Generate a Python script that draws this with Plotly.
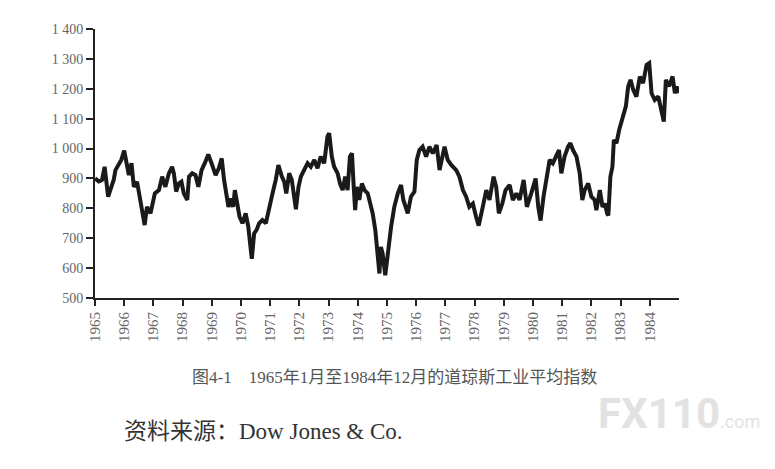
import plotly.graph_objects as go

# decimal years, with the index level at that point
years = [
    1965.00, 1965.13, 1965.24, 1965.33, 1965.45, 1965.53, 1965.64, 1965.70, 1965.81, 1965.90,
    1966.00, 1966.10, 1966.16, 1966.25, 1966.33, 1966.44, 1966.50, 1966.59, 1966.65, 1966.70,
    1966.78, 1966.90, 1966.98, 1967.05, 1967.19, 1967.30, 1967.41, 1967.53, 1967.64, 1967.70,
    1967.78, 1967.87, 1967.96, 1968.04, 1968.16, 1968.22, 1968.33, 1968.44, 1968.54, 1968.65,
    1968.76, 1968.88, 1968.99, 1969.07, 1969.13, 1969.24, 1969.34, 1969.42, 1969.50, 1969.57,
    1969.65, 1969.73, 1969.79, 1969.87, 1969.95, 1970.05, 1970.16, 1970.25, 1970.37, 1970.45,
    1970.53, 1970.62, 1970.73, 1970.85, 1970.96, 1971.08, 1971.19, 1971.28, 1971.40, 1971.48,
    1971.55, 1971.65, 1971.74, 1971.80, 1971.88, 1971.97, 1972.05, 1972.16, 1972.28, 1972.39,
    1972.51, 1972.62, 1972.73, 1972.85, 1972.96, 1973.02, 1973.11, 1973.19, 1973.31, 1973.39,
    1973.48, 1973.57, 1973.65, 1973.73, 1973.80, 1973.86, 1973.91, 1973.97, 1974.05, 1974.14,
    1974.23, 1974.34, 1974.42, 1974.51, 1974.60, 1974.66, 1974.74, 1974.79, 1974.85, 1974.94,
    1975.02, 1975.14, 1975.25, 1975.37, 1975.48, 1975.56, 1975.71, 1975.82, 1975.94, 1976.02,
    1976.11, 1976.22, 1976.34, 1976.45, 1976.57, 1976.70, 1976.80, 1976.97, 1977.08, 1977.20,
    1977.37, 1977.48, 1977.60, 1977.71, 1977.82, 1977.94, 1978.05, 1978.14, 1978.28, 1978.40,
    1978.51, 1978.65, 1978.74, 1978.83, 1978.95, 1979.06, 1979.20, 1979.31, 1979.43, 1979.54,
    1979.68, 1979.79, 1979.94, 1980.09, 1980.18, 1980.26, 1980.36, 1980.46, 1980.57, 1980.68,
    1980.80, 1980.89, 1980.97, 1981.08, 1981.20, 1981.28, 1981.37, 1981.49, 1981.60, 1981.69,
    1981.77, 1981.89, 1982.00, 1982.11, 1982.17, 1982.29, 1982.38, 1982.46, 1982.54, 1982.58,
    1982.65, 1982.72, 1982.77, 1982.86, 1982.95, 1983.06, 1983.18, 1983.26, 1983.34, 1983.43,
    1983.54, 1983.66, 1983.77, 1983.89, 1983.98, 1984.06, 1984.17, 1984.29, 1984.40, 1984.48,
    1984.55, 1984.66, 1984.78, 1984.86, 1984.92, 1984.97,
]
djia = [
    900, 890, 895, 939, 839, 861, 895, 928, 951, 962,
    993, 928, 911, 951, 872, 889, 850, 805, 772, 744,
    805, 783, 828, 850, 861, 906, 872, 917, 939, 917,
    856, 883, 889, 850, 828, 906, 917, 911, 872, 928,
    951, 980, 951, 928, 911, 934, 967, 895, 850, 805,
    833, 805, 861, 805, 772, 750, 783, 738, 631, 716,
    727, 750, 761, 750, 805, 850, 895, 945, 906, 889,
    850, 917, 895, 850, 797, 872, 906, 928, 951, 939,
    962, 934, 973, 951, 1040, 1051, 973, 939, 917, 883,
    861, 906, 861, 973, 984, 872, 794, 872, 828, 883,
    861, 850, 816, 783, 727, 660, 582, 671, 649, 576,
    649, 738, 805, 850, 878, 828, 783, 839, 856, 962,
    995, 1006, 973, 1006, 984, 1012, 928, 1006, 962, 945,
    928, 906, 861, 839, 805, 816, 772, 742, 805, 861,
    828, 906, 872, 783, 816, 861, 878, 828, 850, 828,
    895, 805, 850, 900, 805, 759, 839, 895, 962, 951,
    973, 995, 917, 973, 1006, 1018, 995, 973, 917, 828,
    861, 883, 839, 828, 794, 861, 805, 816, 783, 776,
    906, 939, 1029, 1018, 1062, 1096, 1141, 1208, 1230, 1197,
    1174, 1241, 1219, 1280, 1286, 1185, 1163, 1174, 1118, 1090,
    1230, 1208, 1241, 1185, 1208, 1185,
]

year_ticks = list(range(1965, 1985))
level_ticks = [500, 600, 700, 800, 900, 1000, 1100, 1200, 1300, 1400]
level_labels = ["500", "600", "700", "800", "900", "1 000", "1 100", "1 200", "1 300", "1 400"]

caption = "图4-1　1965年1月至1984年12月的道琼斯工业平均指数"
source = "资料来源：Dow Jones & Co."

serif = "Liberation Serif, Noto Sans CJK SC, serif"

fig = go.Figure()
fig.add_trace(go.Scatter(
    x=years, y=djia, mode="lines",
    line=dict(color="#1a1a1a", width=4),
    hoverinfo="skip", showlegend=False,
))

# the page has an 8px body margin, so the figure is a bit smaller than the window
fig.update_layout(
    width=767, height=461,
    margin=dict(l=87, r=96, t=21, b=171),
    paper_bgcolor="white", plot_bgcolor="white",
    font=dict(family=serif, color="#555555"),
    xaxis=dict(
        range=[1965, 1985], tickvals=year_ticks, ticktext=[str(y) for y in year_ticks],
        tickangle=-90, ticks="outside", ticklen=6, tickwidth=1.5, tickcolor="#222",
        showline=True, linecolor="#222", linewidth=2, showgrid=False, zeroline=False,
        tickfont=dict(size=15, color="#666666"), automargin=False,
    ),
    yaxis=dict(
        range=[500, 1400], tickvals=level_ticks, ticktext=level_labels,
        ticks="outside", ticklen=7, tickwidth=1.5, tickcolor="#222",
        showline=True, linecolor="#222", linewidth=2, showgrid=False, zeroline=False,
        tickfont=dict(size=14, color="#666666"), automargin=False,
    ),
)

fig.add_annotation(
    text=caption, xref="paper", yref="paper", x=0.512, y=-0.297,
    xanchor="center", yanchor="middle", showarrow=False,
    font=dict(size=17, color="#555555", family=serif),
)
fig.add_annotation(
    text=source, xref="paper", yref="paper", x=0.046, y=-0.498,
    xanchor="left", yanchor="middle", showarrow=False,
    font=dict(size=23, color="#333333", family=serif),
)
fig.add_annotation(
    text="<b>FX110</b><span style='font-size:18px'>.com</span>",
    xref="paper", yref="paper", x=1.142, y=-0.428,
    xanchor="right", yanchor="middle", showarrow=False,
    font=dict(size=42, color="#e2e2e2", family="Roboto, sans-serif"),
)

fig.write_html("out.html")
